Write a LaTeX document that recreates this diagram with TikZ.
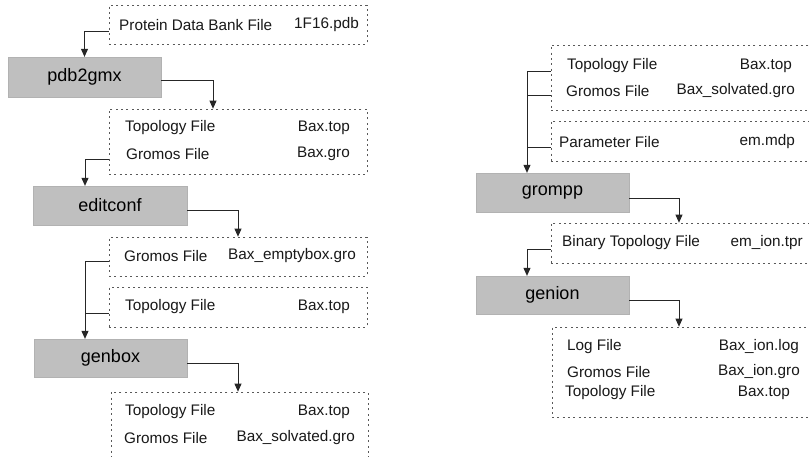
\documentclass[tikz,border=0pt]{standalone}
\usepackage{fontspec}
\setmainfont{Liberation Sans}
\usetikzlibrary{arrows.meta,calc}
\begin{document}
\begin{tikzpicture}[x=1pt,y=-1pt,
  fbox/.style={draw=black!65, line width=0.7pt, dash pattern=on 2pt off 3.3pt, rectangle, inner sep=0pt},
  proc/.style={fill=black!25, draw=black!30, line width=0.3pt, rectangle, inner sep=0pt, font=\fontsize{18}{20}\selectfont},
  lbl/.style={inner sep=0pt, font=\fontsize{15.3}{17}\selectfont, text=black!90},
  lw/.style={lbl, anchor=west},
  le/.style={lbl, anchor=east},
  conn/.style={draw=black!85, line width=0.9pt},
  arr/.style={conn, -{Triangle[length=8pt,width=7pt]}}
]
\clip (0,0) rectangle (809,456);
\fill[white] (0,0) rectangle (809,456);

% ---------- left column ----------
\node[fbox, minimum width=258pt, minimum height=39pt] (b1) at (238,24.5) {};
\node[proc, minimum width=153pt, minimum height=40pt] (p1) at (84.5,77) {pdb2gmx};
\node[fbox, minimum width=258pt, minimum height=65pt] (b2) at (238,141.5) {};
\node[proc, minimum width=154pt, minimum height=39pt] (p2) at (110,205.5) {editconf};
\node[fbox, minimum width=258pt, minimum height=39pt] (b3) at (238,256.5) {};
\node[fbox, minimum width=258pt, minimum height=40pt] (b4) at (238,307) {};
\node[proc, minimum width=153pt, minimum height=38pt] (p3) at (110.5,358) {genbox};
\node[fbox, minimum width=257pt, minimum height=90pt] (b5) at (239.5,437) {};

\node[lw] (t1a) at (119,25) {Protein Data Bank File};
\node[le] (t1b) at (359,25) {1F16.pdb};
\node[lw] (t2a) at (125,128) {Topology File};
\node[le] (t2b) at (350,128) {Bax.top};
\node[lw] (t2c) at (126,154) {Gromos File};
\node[le] (t2d) at (350,154) {Bax.gro};
\node[lw] (t3a) at (124,256) {Gromos File};
\node[le] (t3b) at (356,256) {Bax\_emptybox.gro};
\node[lw] (t4a) at (125,307) {Topology File};
\node[le] (t4b) at (350,307) {Bax.top};
\node[lw] (t5a) at (125,412) {Topology File};
\node[le] (t5b) at (350,412) {Bax.top};
\node[lw] (t5c) at (124,438) {Gromos File};
\node[le] (t5d) at (355,438) {Bax\_solvated.gro};

\coordinate (c1) at (b1.west |- 0,31);
\draw[arr] (c1) -| (p1.north);
\coordinate (c2) at (p1.east |- 0,80);
\coordinate (d2) at (213,0);
\draw[arr] (c2) -| (d2 |- b2.north);
\coordinate (c3) at (b2.west |- 0,159);
\coordinate (d3) at (85,0);
\draw[arr] (c3) -| (d3 |- p2.north);
\coordinate (c4) at (p2.east |- 0,210);
\draw[arr] (c4) -| (b3.north);
\coordinate (c5) at (b3.west |- 0,261);
\coordinate (c6) at (b4.west |- 0,313);
\draw[conn] (c6) -- (d3 |- c6);
\draw[arr] (c5) -| (d3 |- p3.north);
\coordinate (c7) at (p3.east |- 0,363);
\coordinate (d7) at (238,0);
\draw[arr] (c7) -| (d7 |- b5.north);

% ---------- right column ----------
\node[fbox, minimum width=279pt, minimum height=65pt] (b6) at (690.5,77.5) {};
\node[fbox, minimum width=279pt, minimum height=40pt] (b7) at (690.5,141) {};
\node[proc, minimum width=153pt, minimum height=39pt] (p4) at (552.5,192.5) {grompp};
\node[fbox, minimum width=279pt, minimum height=40pt] (b8) at (690.5,243) {};
\node[proc, minimum width=153pt, minimum height=38pt] (p5) at (552.5,295) {genion};
\node[fbox, minimum width=278pt, minimum height=90pt] (b9) at (691,372) {};

\node[lw] (t6a) at (567,66) {Topology File};
\node[le] (t6b) at (792,66) {Bax.top};
\node[lw] (t6c) at (566,91) {Gromos File};
\node[le] (t6d) at (795,91) {Bax\_solvated.gro};
\node[lw] (t7a) at (559,142) {Parameter File};
\node[le] (t7b) at (795,142) {em.mdp};
\node[lw] (t8a) at (562,243) {Binary Topology File};
\node[le] (t8b) at (803,243) {em\_ion.tpr};
\node[lw] (t9a) at (567,347) {Log File};
\node[le] (t9b) at (799,347) {Bax\_ion.log};
\node[lw] (t9c) at (567,372) {Gromos File};
\node[le] (t9d) at (800,372) {Bax\_ion.gro};
\node[lw] (t9e) at (565,393) {Topology File};
\node[le] (t9f) at (790,393) {Bax.top};

\coordinate (e0) at (527,0);
\coordinate (e1) at (b6.west |- 0,71);
\coordinate (e2) at (b6.west |- 0,95);
\coordinate (e3) at (b7.west |- 0,147);
\draw[conn] (e2) -- (e0 |- e2);
\draw[conn] (e3) -- (e0 |- e3);
\draw[arr] (e1) -| (e0 |- p4.north);
\coordinate (e4) at (p4.east |- 0,198);
\coordinate (e5) at (679,0);
\draw[arr] (e4) -| (e5 |- b8.north);
\coordinate (e6) at (b8.west |- 0,249);
\draw[arr] (e6) -| (e0 |- p5.north);
\coordinate (e7) at (p5.east |- 0,300);
\draw[arr] (e7) -| (e5 |- b9.north);
\end{tikzpicture}
\end{document}
